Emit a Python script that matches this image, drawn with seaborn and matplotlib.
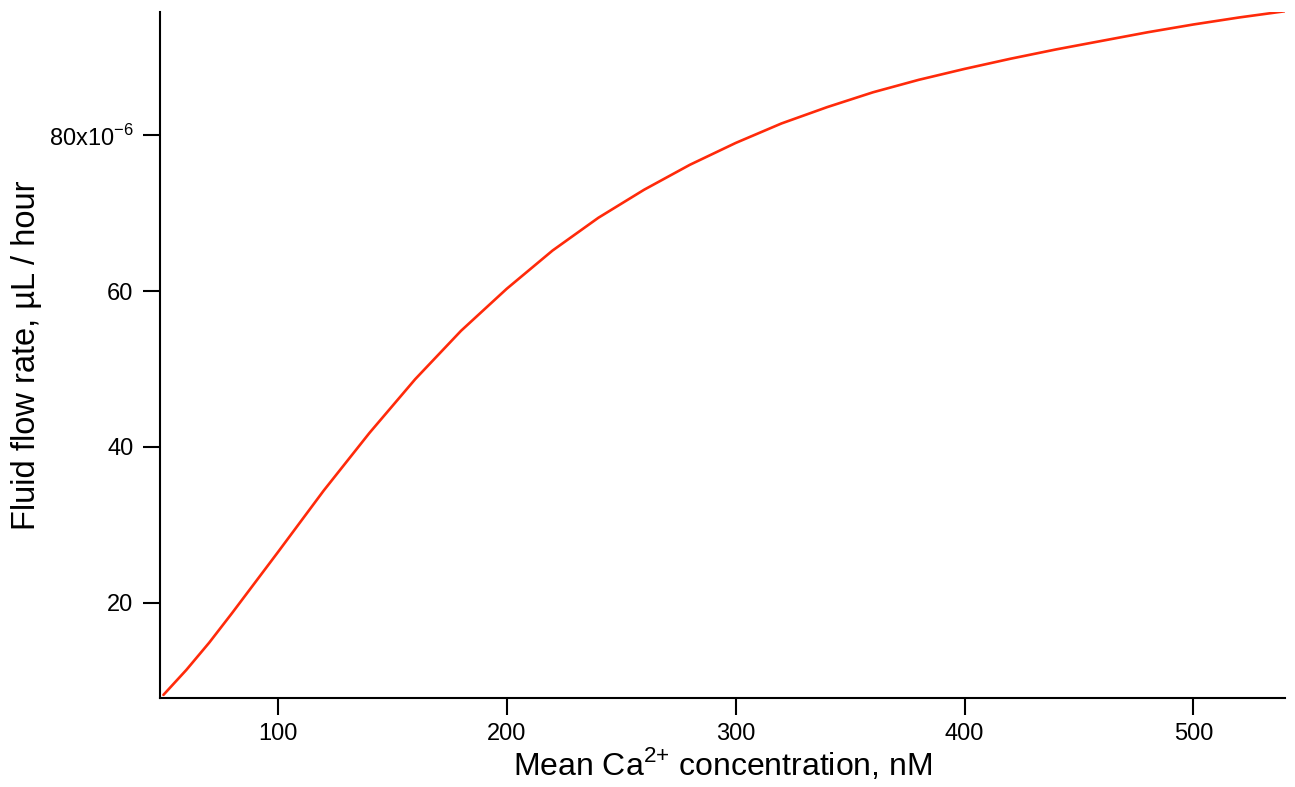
# fluid flow rate vs mean Ca2+ concentration, single red curve
import matplotlib
matplotlib.use("Agg")
import matplotlib.pyplot as plt
import matplotlib.ticker as mticker
import pandas as pd
import seaborn as sns

# values (flow in units of 1e-6 uL/hour)
ca_nM = [50, 60, 70, 80, 90, 100, 120, 140, 160, 180, 200, 220, 240, 260, 280,
         300, 320, 340, 360, 380, 400, 420, 440, 460, 480, 500, 520, 540]
flow = [8.2, 11.4, 14.9, 18.7, 22.6, 26.5, 34.4, 41.8, 48.7, 54.9, 60.3, 65.2,
        69.4, 73.0, 76.2, 79.0, 81.5, 83.6, 85.5, 87.1, 88.5, 89.8, 91.0, 92.1,
        93.2, 94.2, 95.1, 95.9]
y_ticks = [20, 40, 60, 80]
x_ticks = [100, 200, 300, 400, 500]

df = pd.DataFrame({"ca": ca_nM, "flow": flow})

sns.set_style("ticks")
plt.rcParams["font.family"] = ["Liberation Sans", "DejaVu Sans"]
plt.rcParams["mathtext.fontset"] = "custom"
plt.rcParams["mathtext.rm"] = "Liberation Sans"
plt.rcParams["axes.unicode_minus"] = False

fig = plt.figure(figsize=(12.95, 7.87), dpi=100)
ax = fig.add_axes([160 / 1295, 1 - 698 / 787, 1125 / 1295, 686 / 787])

sns.lineplot(data=df, x="ca", y="flow", color="#ff2a0a", linewidth=1.9, ax=ax)

ax.set_xlim(48.5, 540)
ax.set_ylim(7.8, 95.8)
ax.set_xticks(x_ticks)
ax.set_yticks(y_ticks)


def ylab(v, pos):
    if abs(v - 80) < 1e-9:
        return "80x10$^{\\mathregular{-6}}$"
    return "%d" % v


ax.yaxis.set_major_formatter(mticker.FuncFormatter(ylab))

sns.despine(ax=ax)
for s in ["left", "bottom"]:
    ax.spines[s].set_linewidth(1.5)
    ax.spines[s].set_color("black")
ax.tick_params(axis="both", direction="out", length=12, width=1.5,
               color="black", labelsize=17, labelcolor="black")
ax.tick_params(axis="x", pad=6)
ax.tick_params(axis="y", pad=7)

ax.set_xlabel("Mean Ca$^{\\mathregular{2}{\\mathregular{+}}}$ concentration, nM",
              fontsize=23, labelpad=1, color="black")
ax.set_ylabel("Fluid flow rate, \u00b5L / hour", fontsize=23.5, labelpad=5,
              color="black")

fig.savefig("out.png", dpi=100)
